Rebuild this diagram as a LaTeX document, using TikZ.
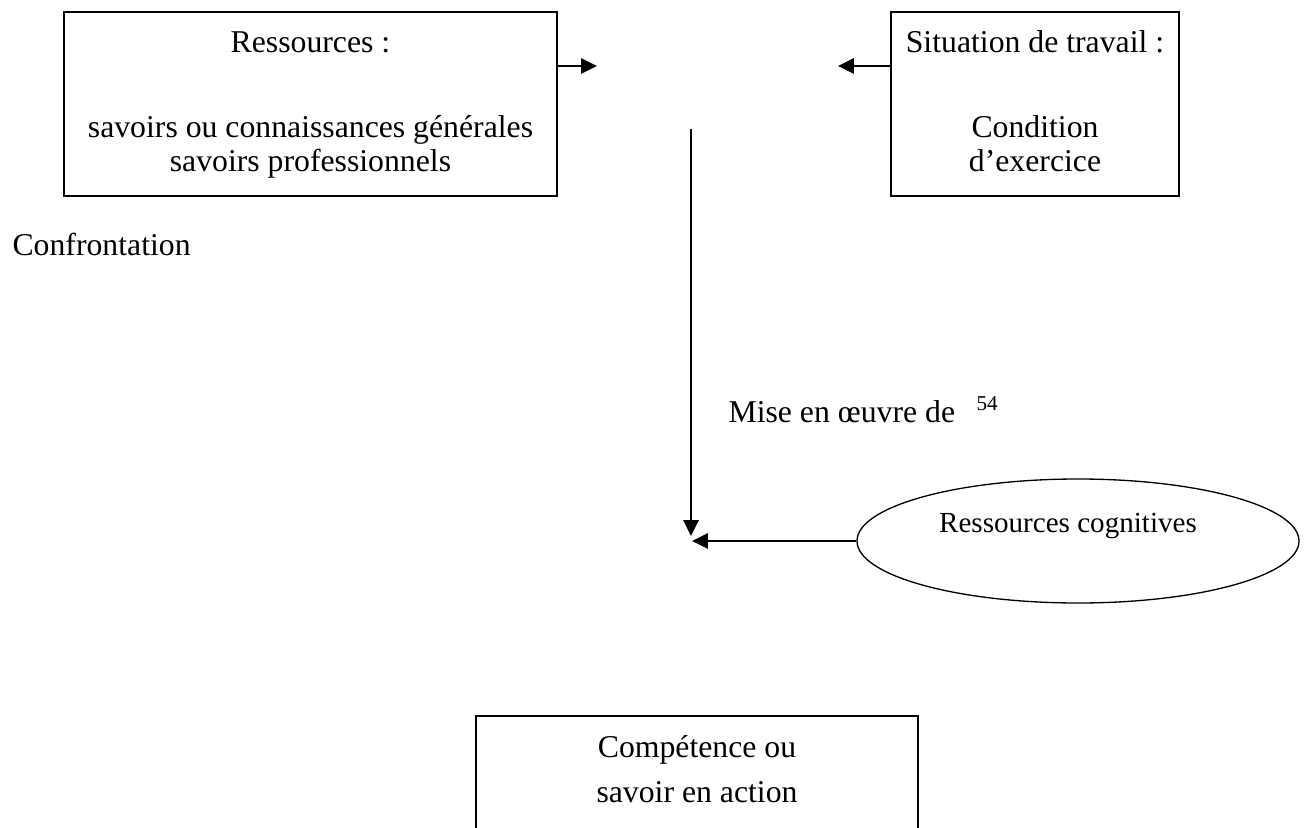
\documentclass[tikz,border=0pt]{standalone}
\usepackage{fontspec}
\setmainfont{Liberation Serif}
\usetikzlibrary{arrows.meta,shapes.geometric}
\newlength\pxu
\setlength\pxu{0.378pt}
\begin{document}
\begin{tikzpicture}[x=0.378pt,y=-0.378pt,
  frame/.style={draw, line width=0.8pt, rectangle, inner sep=0pt},
  txt/.style={anchor=base, inner sep=0pt, font=\fontsize{12}{14}\selectfont},
  arr/.style={line width=0.8pt, -{Triangle[length=6pt, width=5.7pt]}}]
\useasboundingbox (0,0) rectangle (1304,828);
\clip (0,0) rectangle (1304,828);

% resources box
\node[frame, minimum width=493\pxu, minimum height=184\pxu] (res) at (310.5,104) {};
\node[txt] (resT) at (310.5,52) {Ressources :};
\node[txt] (resA) at (310.5,137) {savoirs ou connaissances générales};
\node[txt] (resB) at (310.5,171) {savoirs professionnels};

% work situation box
\node[frame, minimum width=288\pxu, minimum height=184\pxu] (sit) at (1035,104) {};
\node[txt] (sitT) at (1035,52) {Situation de travail :};
\node[txt] (sitA) at (1035,137) {Condition};
\node[txt] (sitB) at (1035,171) {d’exercice};

% side labels
\node[txt, anchor=base west] (conf) at (12,255) {Confrontation};
\node[txt, anchor=base west] (mise) at (728,422) {Mise en œuvre de};
\node[anchor=base west, inner sep=0pt, font=\fontsize{8}{9}\selectfont] (note) at (976,410) {54};

% cognitive resources
\node[draw, ellipse, line width=0.5pt, minimum width=442\pxu, minimum height=124\pxu, inner sep=0pt] (cog) at (1078,541) {};
\node[anchor=base, inner sep=0pt, font=\fontsize{11}{13}\selectfont] (cogT) at (1068,532) {Ressources cognitives};

% competence box (runs past the lower edge)
\node[frame, minimum width=442\pxu, minimum height=160\pxu] (comp) at (697,796) {};
\node[txt] (compA) at (697,757) {Compétence ou};
\node[txt] (compB) at (697,802) {savoir en action};

% connectors
\coordinate (t1) at (597,66);
\coordinate (t2) at (838,66);
\coordinate (vtop) at (691,129);
\coordinate (vbot) at (691,536);
\coordinate (hend) at (692,541);
\draw[arr] (t1 -| res.east) -- (t1);
\draw[arr] (t2 -| sit.west) -- (t2);
\draw[arr] (vtop) -- (vbot);
\draw[arr] (cog.west) -- (hend);
\end{tikzpicture}
\end{document}
